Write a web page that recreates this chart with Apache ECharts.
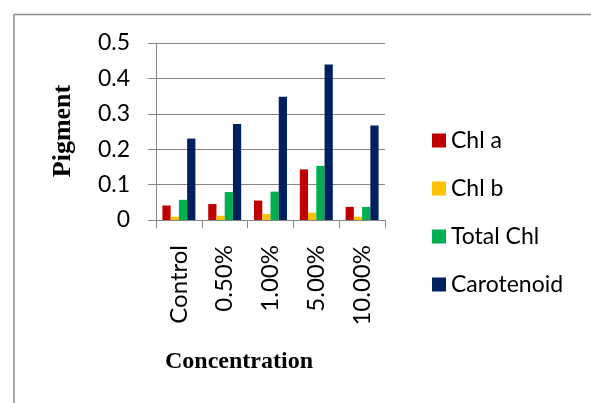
<!DOCTYPE html>
<html><head><meta charset="utf-8">
<script src="https://cdn.jsdelivr.net/npm/echarts@6/dist/echarts.min.js"></script>
<style>html,body{margin:0;padding:0;background:#fff}#c{width:591px;height:403px}</style>
</head><body><div id="c"></div>
<script>
var categories = ['Control', '0.50%', '1.00%', '5.00%', '10.00%'];
var chlA = [0.041, 0.045, 0.055, 0.143, 0.037];
var chlB = [0.009, 0.012, 0.017, 0.021, 0.009];
var totalChl = [0.057, 0.079, 0.080, 0.153, 0.037];
var carotenoid = [0.230, 0.271, 0.348, 0.439, 0.267];
var seriesNames = ['Chl a', 'Chl b', 'Total Chl', 'Carotenoid'];
var seriesColors = ['#C00000', '#FFC000', '#00B050', '#002060'];
var seriesData = [chlA, chlB, totalChl, carotenoid];

var FONT = 'Lato';
var chart = echarts.init(document.getElementById('c'));
chart.setOption({
  animation: false,
  backgroundColor: '#fff',
  grid: { left: 156, top: 43, width: 229, height: 177 },
  legend: {
    orient: 'vertical', left: 427, top: 124,
    itemWidth: 14, itemHeight: 14, itemGap: 25, icon: 'rect',
    textStyle: { fontFamily: FONT, fontSize: 23, color: '#000', lineHeight: 23 },
    data: seriesNames
  },
  xAxis: {
    type: 'category', data: categories,
    axisLine: { lineStyle: { color: '#868686', width: 1 } },
    axisTick: { show: true, length: 8, lineStyle: { color: '#868686' } },
    axisLabel: { rotate: 90, margin: 25, fontFamily: FONT, fontSize: 24, color: '#000', interval: 0 }
  },
  yAxis: {
    type: 'value', min: 0, max: 0.5, interval: 0.1,
    axisLine: { show: true, lineStyle: { color: '#868686', width: 1 } },
    axisTick: { show: true, length: 8, lineStyle: { color: '#868686' } },
    splitLine: { lineStyle: { color: '#868686', width: 1 } },
    axisLabel: { margin: 26, fontFamily: FONT, fontSize: 23, color: '#000' }
  },
  graphic: [
    { type: 'rect', shape: { x: 14, y: 14.5, width: 700, height: 600 },
      style: { fill: 'none', stroke: '#8c8c8c', lineWidth: 1.5 }, silent: true, z: -1 },
    { type: 'text', x: 63, y: 131, rotation: Math.PI / 2,
      style: { text: 'Pigment', fontFamily: 'Liberation Serif', fontWeight: 'bold', fontSize: 26,
               fill: '#000', align: 'center', verticalAlign: 'middle' } },
    { type: 'text', x: 239, y: 362,
      style: { text: 'Concentration', fontFamily: 'Liberation Serif', fontWeight: 'bold', fontSize: 24,
               fill: '#000', align: 'center', verticalAlign: 'middle' } }
  ],
  series: seriesNames.map(function (n, i) {
    return {
      name: n, type: 'bar', data: seriesData[i],
      barCategoryGap: '28%', barGap: '0%',
      itemStyle: { color: seriesColors[i] }
    };
  })
});
</script></body></html>
